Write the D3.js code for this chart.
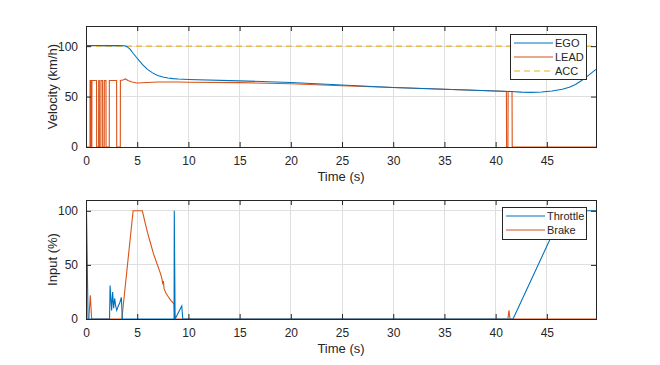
<!DOCTYPE html>
<html><head><meta charset="utf-8">
<script src="https://cdn.jsdelivr.net/npm/d3@7"></script>
<style>body{margin:0;background:#fff}svg{display:block}text{font-family:"Liberation Sans",Arial,sans-serif;fill:#262626}</style>
</head><body><svg id="c" width="660" height="365"></svg>
<script>
// ---- data ----
const xTicks = [0,5,10,15,20,25,30,35,40,45];
const velTicks = [0,50,100];
const inpTicks = [0,50,100];

const egoTime = [0,1,2,3,3.8,4.0,4.3,4.6,5.0,5.5,6.0,6.5,7.0,7.5,8.0,8.5,9.0,10,15,20,25,30,35,40,41.5,42.5,43.5,44.5,45.5,46.5,47.2,47.8,48.4,49,49.8];
const egoVel  = [100.5,100.6,100.5,100.5,100.4,99.5,97,93,88,82,77,73.5,71,69.5,68.4,67.8,67.4,67,65.6,64,61.5,59,57.3,55.6,55,54.4,54.2,54.6,55.6,57.3,59.3,62,66,70.5,77];

const leadTime = [0,0.39,0.40,0.47,0.48,0.57,0.58,1.03,1.04,1.23,1.24,1.30,1.31,1.45,1.46,1.62,1.63,1.78,1.79,1.95,1.96,2.27,2.28,2.99,3.0,3.35,3.36,3.6,3.85,4.1,4.5,5.0,6,7,8,9,10,15,20,25,30,35,40,41.05,41.07,41.2,41.22,41.6,41.62,49.8];
const leadVel  = [0,0,66,66,0,0,66,66,0,0,66,66,0,0,66,66,0,0,66,66,0,0,66,66,0,0,66,66.5,67.5,66,64.5,63.5,64,64.4,64.5,64.4,64.2,63.8,62.8,60.8,59,57.3,55.5,55,0,0,55,55,0,0];

const accTime = [0,49.8];
const accVel  = [100,100];

const throttleTime = [0,0.05,0.2,2.3,2.35,2.5,2.6,2.7,2.8,2.9,3.0,3.15,3.3,3.45,3.55,8.6,8.62,8.7,9.35,9.45,41.7,46.6,49.8];
const throttleVal  = [100,100,0,0,31,8,25,10,19,12,8,12,15,20,0,0,100,0,12,0,0,100,100];

const brakeTime = [0,0.28,0.42,0.55,3.5,4.6,5.5,5.8,6.0,6.3,6.6,6.9,7.2,7.4,7.5,7.56,7.62,7.8,8.0,8.3,8.6,8.68,41.2,41.3,41.4,49.8];
const brakeVal  = [0,0,22,0,0,100,100,88,80,70,60,52,44,38,32,35,28,24,21,17,14,0,0,8,0,0];

// ---- layout ----
const svg = d3.select("#c");
const C = {blue:"#0072BD", orange:"#D95319", yellow:"#EDB120", axis:"#262626", grid:"#dfdfdf"};
const X0 = 86, X1 = 596;

function panel(top, bottom, yMax, yTicks, yLabel, series, legendItems, legendBox){
  const x = d3.scaleLinear().domain([0,49.8]).range([X0,X1]);
  const y = d3.scaleLinear().domain([0,yMax]).range([bottom,top]);
  const g = svg.append("g");
  g.append("g").selectAll("line").data(xTicks).join("line")
    .attr("x1",d=>x(d)).attr("x2",d=>x(d)).attr("y1",top).attr("y2",bottom)
    .attr("stroke",C.grid).attr("stroke-width",1).attr("shape-rendering","crispEdges");
  g.append("g").selectAll("line").data(yTicks).join("line")
    .attr("y1",d=>y(d)).attr("y2",d=>y(d)).attr("x1",X0).attr("x2",X1)
    .attr("stroke",C.grid).attr("stroke-width",1).attr("shape-rendering","crispEdges");
  const id = "clip"+top;
  svg.append("clipPath").attr("id",id).append("rect").attr("x",X0).attr("y",top-1).attr("width",X1-X0).attr("height",bottom-top+2);
  const lg = g.append("g").attr("clip-path",`url(#${id})`);
  series.forEach(s=>{
    const pts = s.t.map((t,i)=>[t,s.v[i]]);
    lg.append("path").datum(pts)
      .attr("d",d3.line().x(d=>x(d[0])).y(d=>y(d[1])))
      .attr("fill","none").attr("stroke",s.color).attr("stroke-width",1.1)
      .attr("stroke-dasharray",s.dash||null);
  });
  const tl = 5;
  const ax = (sel)=>sel.selectAll("text").attr("font-size","12px").attr("fill",C.axis);
  const xb = g.append("g").attr("transform",`translate(0,${bottom})`)
    .call(d3.axisBottom(x).tickValues(xTicks).tickSizeInner(-tl).tickSizeOuter(0).tickPadding(9));
  xb.call(ax);
  const xt = g.append("g").attr("transform",`translate(0,${top})`)
    .call(d3.axisTop(x).tickValues(xTicks).tickSizeInner(-tl).tickSizeOuter(0).tickFormat(""));
  const yl = g.append("g").attr("transform",`translate(${X0},0)`)
    .call(d3.axisLeft(y).tickValues(yTicks).tickSizeInner(-tl).tickSizeOuter(0).tickPadding(8));
  yl.call(ax);
  const yr = g.append("g").attr("transform",`translate(${X1},0)`)
    .call(d3.axisRight(y).tickValues(yTicks).tickSizeInner(-tl).tickSizeOuter(0).tickFormat(""));
  [xb,xt,yl,yr].forEach(a=>{a.select(".domain").remove(); a.selectAll("line").attr("stroke",C.axis);});
  g.append("rect").attr("x",X0+0.5).attr("y",top+0.5).attr("width",X1-X0).attr("height",bottom-top)
    .attr("fill","none").attr("stroke",C.axis).attr("stroke-width",1);
  g.append("text").attr("x",(X0+X1)/2).attr("y",bottom+34).attr("text-anchor","middle").attr("font-size","13px").text("Time (s)");
  g.append("text").attr("transform",`translate(57,${(top+bottom)/2}) rotate(-90)`).attr("text-anchor","middle").attr("font-size","13px").text(yLabel);
  const lb = g.append("g");
  lb.append("rect").attr("x",legendBox.x+0.5).attr("y",legendBox.y+0.5).attr("width",legendBox.w).attr("height",legendBox.h)
    .attr("fill","#fff").attr("stroke",C.axis).attr("stroke-width",1);
  legendItems.forEach((it,i)=>{
    const yy = legendBox.y + 9 + i*14;
    lb.append("line").attr("x1",legendBox.x+4).attr("x2",legendBox.x+43).attr("y1",yy).attr("y2",yy)
      .attr("stroke",it.color).attr("stroke-width",1.1).attr("stroke-dasharray",it.dash||null);
    lb.append("text").attr("x",legendBox.x+45).attr("y",yy+4).attr("font-size","11px").text(it.name);
  });
}

panel(26,147,120,velTicks,"Velocity (km/h)",[
  {t:accTime,v:accVel,color:C.yellow,dash:"6,4"},
  {t:leadTime,v:leadVel,color:C.orange},
  {t:egoTime,v:egoVel,color:C.blue}
],[
  {name:"EGO",color:C.blue},{name:"LEAD",color:C.orange},{name:"ACC",color:C.yellow,dash:"6,4"}
],{x:510,y:34,w:76,h:45});

panel(200,319,110,inpTicks,"Input (%)",[
  {t:brakeTime,v:brakeVal,color:C.orange},
  {t:throttleTime,v:throttleVal,color:C.blue}
],[
  {name:"Throttle",color:C.blue},{name:"Brake",color:C.orange}
],{x:502,y:207,w:84,h:32});
</script></body></html>
